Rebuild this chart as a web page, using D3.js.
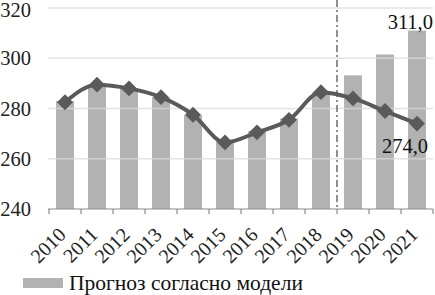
<!DOCTYPE html>
<html>
<head>
<meta charset="utf-8">
<script src="https://cdn.jsdelivr.net/npm/d3@7"></script>
<style>
  body { margin: 0; background: #fff; }
  svg { display: block; font-family: "Liberation Serif", "DejaVu Serif", serif; }
</style>
</head>
<body>
<div id="chart"></div>
<script>
  // chart data
  var years = ["2010","2011","2012","2013","2014","2015","2016","2017","2018","2019","2020","2021"];
  var forecast = [283, 289.5, 288, 284.5, 277.5, 267, 271, 276, 286.5, 293.2, 301.5, 311];
  var actual = [282.5, 289.5, 288, 284.5, 277.5, 266.5, 270.5, 275.5, 286.5, 284, 279, 274];
  var yTicks = [240, 260, 280, 300, 320];
  var legendLabel = "Прогноз согласно модели";

  var width = 435, height = 295;
  var margin = {left: 48, right: 2, top: 8, bottom: 86};

  var svg = d3.select("#chart")
      .append("svg")
      .attr("width", width)
      .attr("height", height);

  var x = d3.scaleBand()
      .domain(years)
      .range([margin.left + 1, width - margin.right])
      .paddingInner(0.44)
      .paddingOuter(0.22);

  var y = d3.scaleLinear()
      .domain([240, 320])
      .range([height - margin.bottom, margin.top]);

  var step = x.step();
  var gap = (step - x.bandwidth()) / 2;

  svg.append("g")
      .selectAll("rect")
      .data(forecast)
      .enter()
      .append("rect")
      .attr("x", function(d, i){ return x(years[i]); })
      .attr("width", x.bandwidth())
      .attr("y", function(d){ return y(d); })
      .attr("height", function(d){ return y(240) - y(d); })
      .style("fill", "#b2b2b2");

  // gridlines sit over the bars, lightly
  svg.append("g")
      .selectAll("line")
      .data(yTicks.slice(1))
      .enter()
      .append("line")
      .attr("x1", margin.left)
      .attr("x2", width - margin.right)
      .attr("y1", function(d){ return y(d); })
      .attr("y2", function(d){ return y(d); })
      .style("stroke", "#d9d9d9")
      .style("stroke-opacity", 0.75)
      .style("stroke-width", 1.5);

  svg.append("g")
      .selectAll("text")
      .data(yTicks)
      .enter()
      .append("text")
      .attr("x", 31)
      .attr("y", function(d){ return Math.max(y(d) + 7, 17); })
      .attr("text-anchor", "end")
      .style("font-size", "20.5px")
      .style("fill", "#222")
      .text(function(d){ return d; });

  // bottom axis
  svg.append("g")
      .attr("transform", "translate(0," + y(240) + ")")
      .call(d3.axisBottom(x).tickSize(0).tickFormat(""))
      .select(".domain")
      .attr("d", "M" + margin.left + ",0H" + (width - margin.right))
      .style("stroke", "#8c8c8c")
      .style("stroke-width", 1.2);

  svg.append("g")
      .selectAll("line")
      .data(d3.range(years.length + 1))
      .enter()
      .append("line")
      .attr("x1", function(i){ return x(years[0]) - gap + i * step; })
      .attr("x2", function(i){ return x(years[0]) - gap + i * step; })
      .attr("y1", y(240))
      .attr("y2", y(240) + 5)
      .style("stroke", "#8c8c8c")
      .style("stroke-width", 1.2);

  svg.append("g")
      .selectAll("text")
      .data(years)
      .enter()
      .append("text")
      .attr("text-anchor", "end")
      .attr("transform", function(d){
        var cx = x(d) + x.bandwidth() / 2 + 2;
        return "translate(" + cx + "," + (y(240) + 27) + ") rotate(-45)";
      })
      .style("font-size", "20px")
      .style("fill", "#222")
      .text(function(d){ return d; });

  // dash-dot separator between history and forecast
  var sepX = x("2019") - gap;
  svg.append("line")
      .attr("x1", sepX)
      .attr("x2", sepX)
      .attr("y1", 0)
      .attr("y2", y(240))
      .style("stroke", "#555")
      .style("stroke-width", 1.3)
      .style("stroke-dasharray", "7,3,2,3");

  // line with diamond markers
  var line = d3.line()
      .x(function(d, i){ return x(years[i]) + x.bandwidth() / 2; })
      .y(function(d){ return y(d); })
      .curve(d3.curveMonotoneX);

  svg.append("path")
      .datum(actual)
      .attr("d", line)
      .style("fill", "none")
      .style("stroke", "#5a5a5a")
      .style("stroke-width", 4);

  var diamond = d3.symbol().type(d3.symbolDiamond2).size(160);
  svg.append("g")
      .selectAll("path")
      .data(actual)
      .enter()
      .append("path")
      .attr("d", diamond)
      .attr("transform", function(d, i){
        return "translate(" + (x(years[i]) + x.bandwidth() / 2) + "," + y(d) + ")";
      })
      .style("fill", "#5a5a5a");

  // value labels
  var last = years.length - 1;
  var fmt = function(v){ return d3.format(".1f")(v).replace(".", ","); };
  svg.append("text")
      .attr("x", 433)
      .attr("y", y(forecast[last]) - 2)
      .attr("text-anchor", "end")
      .style("font-size", "20.5px")
      .style("fill", "#111")
      .text(fmt(forecast[last]));

  svg.append("text")
      .attr("x", 428)
      .attr("y", y(actual[last]) + 29)
      .attr("text-anchor", "end")
      .style("font-size", "20.5px")
      .style("fill", "#111")
      .text(fmt(actual[last]));

  // legend
  svg.append("rect")
      .attr("x", 23)
      .attr("y", 278)
      .attr("width", 40)
      .attr("height", 10)
      .style("fill", "#b2b2b2");

  svg.append("text")
      .attr("x", 69)
      .attr("y", 290)
      .style("font-size", "21.5px")
      .style("fill", "#111")
      .text(legendLabel);
</script>
</body>
</html>
